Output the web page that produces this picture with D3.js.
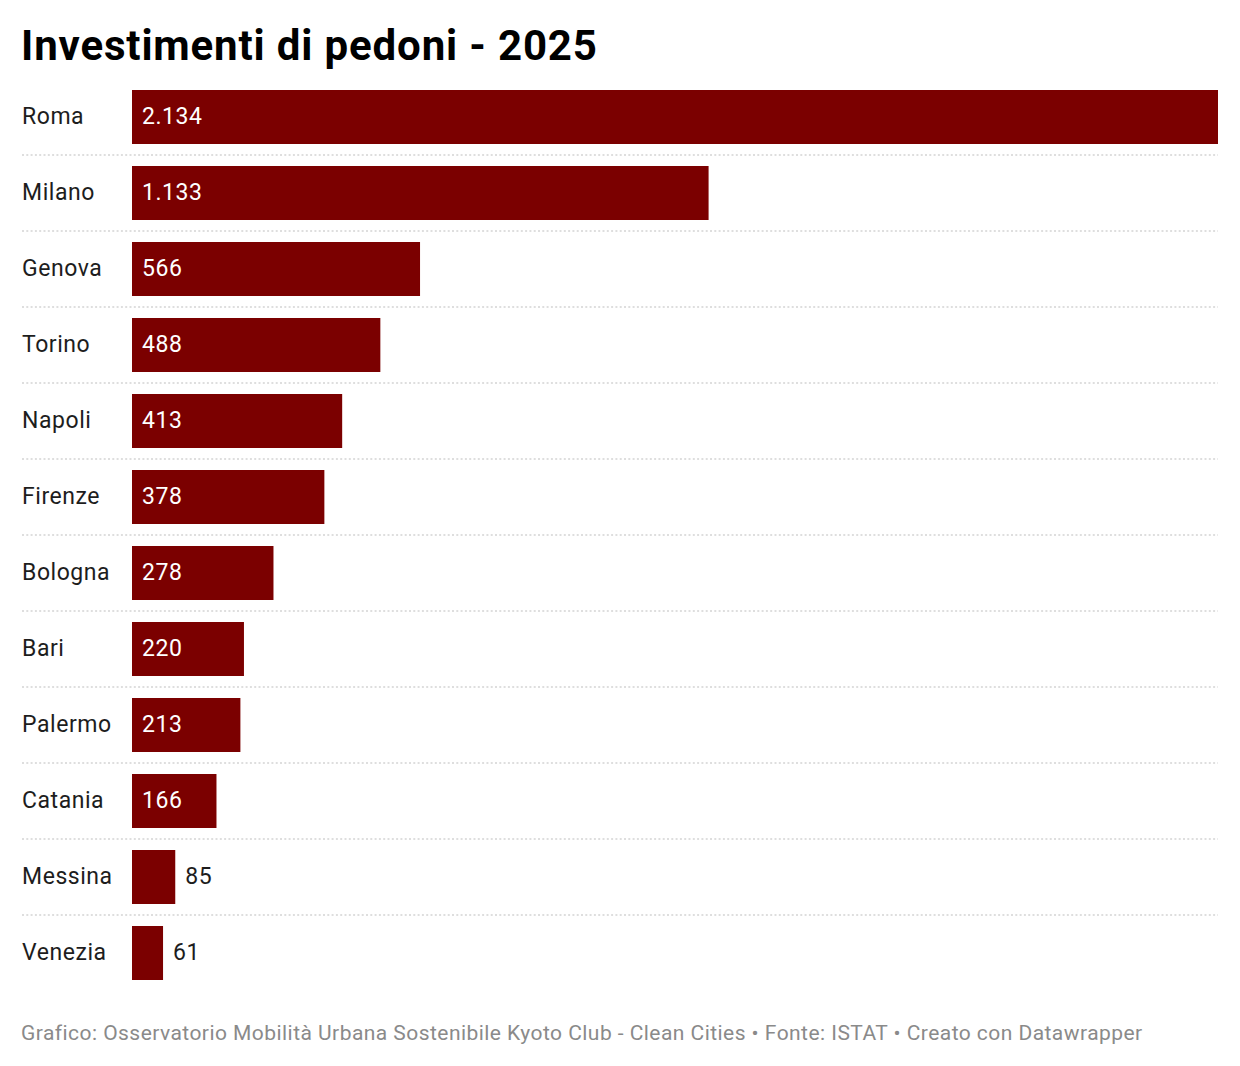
<!DOCTYPE html>
<html><head><meta charset="utf-8">
<script src="https://cdn.jsdelivr.net/npm/d3@7"></script>
<style>body{margin:0;background:#fff;} svg{display:block;font-family:Roboto,"Noto Sans",sans-serif;}</style>
</head><body>
<svg id="chart" width="1240" height="1066"></svg>
<script>
const categories = ["Roma","Milano","Genova","Torino","Napoli","Firenze","Bologna","Bari","Palermo","Catania","Messina","Venezia"];
const values = [2134,1133,566,488,413,378,278,220,213,166,85,61];
const title = "Investimenti di pedoni - 2025";
const footer = "Grafico: Osservatorio Mobilità Urbana Sostenibile Kyoto Club - Clean Cities • Fonte: ISTAT • Creato con Datawrapper";

const svg = d3.select("#chart");
const x = d3.scaleLinear().domain([0, d3.max(values)]).range([132, 1218]);
const y = d3.scaleBand().domain(categories).range([90 - 11, 980 + 11]).paddingInner(22/76).paddingOuter(11/76);
const fmt = d3.formatLocale({decimal:",", thousands:".", grouping:[3], currency:["€",""]}).format(",d");

svg.append("text").attr("x",21).attr("y",60).attr("font-size",42).attr("font-weight",700)
  .attr("letter-spacing",0.85).attr("fill","#000").text(title);

const data = categories.map((c,i)=>({c, v: values[i]}));

// separators
svg.selectAll("line.sep").data(data.slice(0,-1)).join("line").attr("class","sep")
  .attr("x1",22).attr("x2",1218)
  .attr("y1",d=>y(d.c)+y.bandwidth()+11).attr("y2",d=>y(d.c)+y.bandwidth()+11)
  .attr("stroke","#d4d4d4").attr("stroke-width",1.5).attr("stroke-dasharray","2,2.3");

svg.selectAll("rect.bar").data(data).join("rect").attr("class","bar")
  .attr("x",x(0)).attr("y",d=>y(d.c)).attr("height",y.bandwidth())
  .attr("width",d=>x(d.v)-x(0)).attr("fill","#7b0000");

svg.selectAll("text.cat").data(data).join("text").attr("class","cat")
  .attr("x",22).attr("y",d=>y(d.c)+y.bandwidth()/2).attr("dy","0.32em")
  .attr("font-size",23).attr("letter-spacing",0.55).attr("fill","#1d1d1d").text(d=>d.c);

svg.selectAll("text.val").data(data).join("text").attr("class","val")
  .attr("x",d=> (x(d.v)-x(0) > 70) ? x(0)+10 : x(d.v)+10)
  .attr("y",d=>y(d.c)+y.bandwidth()/2).attr("dy","0.32em")
  .attr("font-size",23).attr("letter-spacing",0.55)
  .attr("fill",d=> (x(d.v)-x(0) > 70) ? "#fff" : "#1d1d1d")
  .text(d=>fmt(d.v));

svg.append("text").attr("x",21).attr("y",1040).attr("font-size",21).attr("letter-spacing",0.45)
  .attr("fill","#8a8a8a").text(footer);
</script>
</body></html>
